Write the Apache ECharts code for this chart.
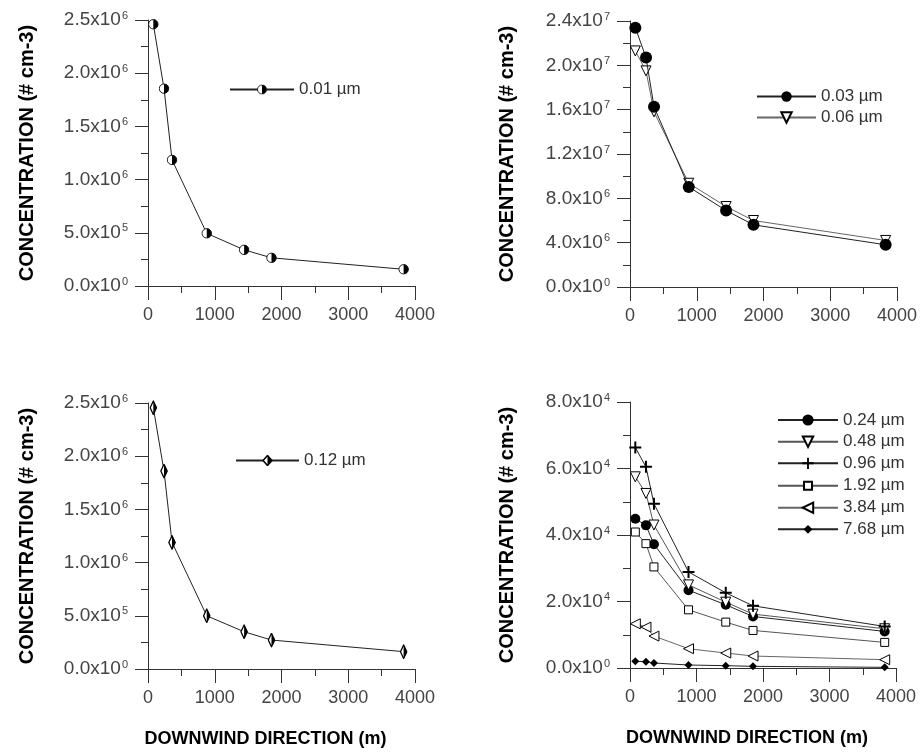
<!DOCTYPE html>
<html>
<head>
<meta charset="utf-8">
<script src="https://cdn.jsdelivr.net/npm/echarts@6/dist/echarts.min.js"></script>
<style>
html,body{margin:0;padding:0;background:#fff;}
#chart{width:922px;height:756px;}
</style>
</head>
<body>
<div id="chart"></div>
<script>
// ---- data ----
const distance = [80, 240, 360, 880, 1440, 1850, 3830];
const xTicks = [0, 1000, 2000, 3000, 4000];

const s001 = [2.46e6, 1.855e6, 1.185e6, 4.95e5, 3.4e5, 2.65e5, 1.57e5];
const s003 = [2.34e7, 2.07e7, 1.626e7, 9.03e6, 6.9e6, 5.61e6, 3.81e6];
const s006 = [2.13e7, 1.95e7, 1.58e7, 9.36e6, 7.26e6, 6.0e6, 4.2e6];
const s012 = [2.455e6, 1.86e6, 1.19e6, 5.0e5, 3.5e5, 2.72e5, 1.63e5];
const s024 = [4.49e4, 4.29e4, 3.72e4, 2.34e4, 1.9e4, 1.55e4, 1.10e4];
const s048 = [5.75e4, 5.25e4, 4.3e4, 2.5e4, 1.98e4, 1.62e4, 1.18e4];
const s096 = [6.63e4, 6.05e4, 4.94e4, 2.89e4, 2.26e4, 1.87e4, 1.25e4];
const s192 = [4.09e4, 3.74e4, 3.04e4, 1.75e4, 1.38e4, 1.13e4, 0.77e4];
const s384 = [1.33e4, 1.23e4, 0.96e4, 0.58e4, 0.45e4, 0.36e4, 0.25e4];
const s768 = [2000, 1900, 1500, 900, 700, 500, 200];

const yTicks1 = [0, 5e5, 1e6, 1.5e6, 2e6, 2.5e6];
const yTicks2 = [0, 4e6, 8e6, 1.2e7, 1.6e7, 2e7, 2.4e7];
const yTicks3 = [0, 5e5, 1e6, 1.5e6, 2e6, 2.5e6];
const yTicks4 = [0, 2e4, 4e4, 6e4, 8e4];

const names = ['0.01 µm','0.03 µm','0.06 µm','0.12 µm','0.24 µm','0.48 µm','0.96 µm','1.92 µm','3.84 µm','7.68 µm'];
const yTitle = 'CONCENTRATION (# cm-3)';
const xTitle = 'DOWNWIND DIRECTION (m)';

// ---- symbols ----
function svgImg(s){ return 'image://data:image/svg+xml;charset=utf-8,' + encodeURIComponent(s); }
const halfCircle = svgImg("<svg xmlns='http://www.w3.org/2000/svg' width='40' height='40' viewBox='0 0 20 20'><circle cx='10' cy='10' r='8.6' fill='white' stroke='black' stroke-width='1.6'/><path d='M10 1.4 A8.6 8.6 0 0 1 10 18.6 Z' fill='black'/></svg>");
const halfDiamond = svgImg("<svg xmlns='http://www.w3.org/2000/svg' width='20' height='40' viewBox='0 0 10 20'><polygon points='5,1 9,10 5,19 1,10' fill='white' stroke='black' stroke-width='1.6'/><polygon points='5,1 9,10 5,19' fill='black'/></svg>");
const plusPath = 'path://M5,0H7V5H12V7H7V12H5V7H0V5H5Z';

function pairs(ys){ return distance.map((x,i)=>[x, ys[i]]); }

function yFmt(v){
  if (v === 0) return '{a|0.0x10}{s|0}';
  const e = Math.floor(Math.log10(v) + 1e-9);
  const m = v / Math.pow(10, e);
  return '{a|' + m.toFixed(1) + 'x10}{s|' + e + '}';
}

const font = 'Liberation Sans, Arial, sans-serif';
const axisCol = '#333';
const labCol = '#444';

const grids = [
  {left:148, top:20, width:267, height:266},
  {left:630, top:21, width:267, height:266},
  {left:148, top:403, width:267, height:266},
  {left:630, top:402, width:266, height:266}
];
const yTickSets = [yTicks1, yTicks2, yTicks3, yTicks4];

const xAxes = grids.map((g,i)=>({
  type:'value', gridIndex:i, min:xTicks[0], max:xTicks[xTicks.length-1], interval:xTicks[1]-xTicks[0],
  axisLine:{show:true, onZero:false, lineStyle:{color:axisCol, width:1}},
  axisTick:{show:true, inside:false, length:14, lineStyle:{color:axisCol}},
  minorTick:{show:true, splitNumber:2, length:7, lineStyle:{color:axisCol}},
  splitLine:{show:false},
  axisLabel:{color:labCol, fontSize:18, fontFamily:font, margin:20, formatter:v=>String(v)},
  name: i>=2 ? xTitle : '',
  nameLocation:'middle', nameGap:61,
  nameTextStyle:{fontSize:18, fontWeight:'bold', color:'#000', fontFamily:font, padding:[0,32,0,0]}
}));

const yAxes = grids.map((g,i)=>{
  const t = yTickSets[i];
  return {
    type:'value', gridIndex:i, min:t[0], max:t[t.length-1], interval:t[1]-t[0],
    axisLine:{show:true, lineStyle:{color:axisCol, width:1}},
    axisTick:{show:true, inside:false, length:13, lineStyle:{color:axisCol}},
    minorTick:{show:true, splitNumber:2, length:7, lineStyle:{color:axisCol}},
    splitLine:{show:false},
    axisLabel:{
      margin:20, formatter:yFmt,
      rich:{
        a:{fontSize:19, color:labCol, fontFamily:font, lineHeight:20},
        s:{fontSize:11, color:labCol, fontFamily:font, verticalAlign:'top', lineHeight:20, padding:[0,0,8,1]}
      }
    },
    name: yTitle, nameLocation:'middle', nameRotate:90,
    nameGap: i%2===0 ? 111 : 113,
    nameTextStyle:{fontSize:20, fontWeight:'bold', color:'#000', fontFamily:font}
  };
});

function line(name, ys, gi, symbol, size, opts){
  opts = opts || {};
  return Object.assign({
    name, type:'line', xAxisIndex:gi, yAxisIndex:gi, data:pairs(ys),
    symbol, symbolSize:size, showSymbol:true,
    lineStyle:{color: opts.lc || '#222', width:1},
    itemStyle:{color: opts.fill || '#000', borderColor:'#000', borderWidth: opts.bw || 0},
    emphasis:{disabled:true}, animation:false, z: opts.z || 2
  }, opts.extra || {});
}

const series = [
  line(names[0], s001, 0, halfCircle, 11),
  line(names[1], s003, 1, 'circle', 12, {z:3}),
  line(names[2], s006, 1, 'triangle', 10, {fill:'#fff', bw:1, lc:'#666', extra:{symbolRotate:180}}),
  line(names[3], s012, 2, halfDiamond, [8,15]),
  line(names[4], s024, 3, 'circle', 10),
  line(names[5], s048, 3, 'triangle', 10, {fill:'#fff', bw:1, lc:'#555', extra:{symbolRotate:180}}),
  line(names[6], s096, 3, plusPath, 12, {lc:'#222'}),
  line(names[7], s192, 3, 'rect', 8, {fill:'#fff', bw:1, lc:'#555'}),
  line(names[8], s384, 3, 'triangle', 10, {fill:'#fff', bw:1, lc:'#666', extra:{symbolRotate:90}}),
  line(names[9], s768, 3, 'diamond', 8)
];

const legText = {fontSize:17, color:'#333', fontFamily:font, lineHeight:19};
const p4Centers = [420, 441.7, 463.3, 485.7, 507.7, 529.3];
const p4Heights = [14, 13, 14, 10, 13, 11];
const legendDefs = [
  {data:[names[0]], left:229, top:80, itemWidth:64, itemHeight:13},
  {data:[names[1], names[2]], left:756, top:87, itemWidth:59, itemHeight:13, orient:'vertical', itemGap:2},
  {data:[names[3]], left:235, top:451, itemWidth:63, itemHeight:14}
];
names.slice(4).forEach((n,k)=>{
  legendDefs.push({data:[n], left:777, top:p4Centers[k]-9.5, itemWidth:60, itemHeight:p4Heights[k]});
});
const legends = legendDefs.map(l=>Object.assign({textStyle:legText, selectedMode:false, padding:0, align:'left'}, l));

const chart = echarts.init(document.getElementById('chart'), null, {renderer:'canvas'});
chart.setOption({
  backgroundColor:'#fff',
  animation:false,
  grid:grids,
  xAxis:xAxes,
  yAxis:yAxes,
  legend:legends,
  series:series
});
</script>
</body>
</html>
